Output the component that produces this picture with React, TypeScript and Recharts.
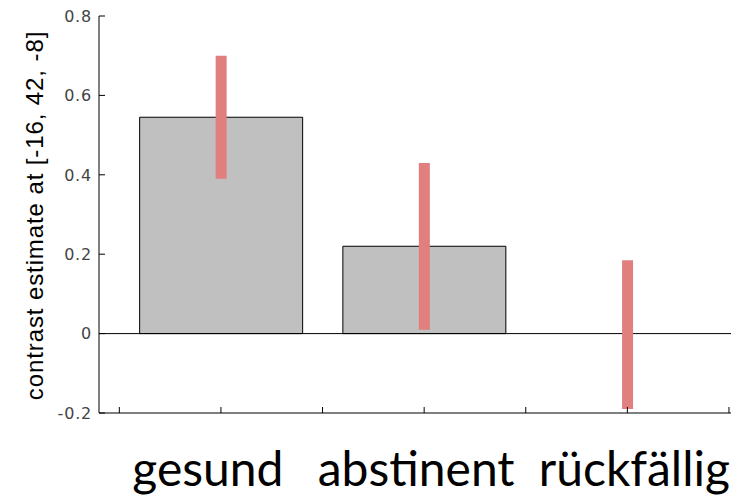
import React from 'react';
import { BarChart, Bar, Cell, XAxis, YAxis, ErrorBar, ReferenceLine } from 'recharts';

// groups and their estimates
const groups = ['gesund', 'abstinent', 'rückfällig'];
const groupPos = [1, 2, 3];
const estimates = [0.545, 0.22, -0.003];
const ciLow = [0.39, 0.01, -0.19];
const ciHigh = [0.7, 0.43, 0.185];

const yTicks = [-0.2, 0, 0.2, 0.4, 0.6, 0.8];
const xTicks = [0.5, 1, 1.5, 2, 2.5, 3, 3.5];

const data = groups.map((name, i) => ({
  name,
  pos: groupPos[i],
  value: estimates[i],
  err: [estimates[i] - ciLow[i], ciHigh[i] - estimates[i]],
}));

// labels are not exactly centred under the bars in the original
const labelShift = [-13, -8, 7];

const XTick = ({ x, y, payload }: any) => {
  const idx = groupPos.indexOf(payload.value);
  return (
    <g>
      <line x1={x} y1={y} x2={x} y2={y - 6} stroke="#000" />
      {idx >= 0 && (
        <text
          x={x + labelShift[idx]}
          y={y + 73}
          textAnchor="middle"
          fontFamily="Lato, 'Open Sans', sans-serif"
          fontSize={48}
          fill="#000"
        >
          {groups[idx]}
        </text>
      )}
    </g>
  );
};

const YTick = ({ x, y, payload }: any) => (
  <g>
    <line x1={x + 7} y1={y} x2={x + 13} y2={y} stroke="#000" />
    <text
      x={x}
      y={y}
      dy="0.36em"
      textAnchor="end"
      fontFamily="'DejaVu Sans', sans-serif"
      fontSize={16}
      letterSpacing={0.8}
      fill="#444"
    >
      {payload.value}
    </text>
  </g>
);

const YLabel = ({ viewBox }: any) => {
  const x = viewBox.x + 42.5;
  const y = viewBox.y + viewBox.height / 2 + 1;
  return (
    <text
      x={x}
      y={y}
      transform={`rotate(-90, ${x}, ${y})`}
      textAnchor="middle"
      fontFamily="'Liberation Sans', Arial, sans-serif"
      fontSize={24}
      letterSpacing={0.9}
      fill="#000"
    >
      contrast estimate at [-16, 42, -8]
    </text>
  );
};

const App = () => (
  <div style={{ position: 'absolute', left: 0, top: 0, background: '#fff' }}>
    <BarChart width={731} height={496} data={data} margin={{ top: 16, right: 0, bottom: 0, left: 0 }}>
      <XAxis
        dataKey="pos"
        type="number"
        domain={[0.4, 3.51]}
        ticks={xTicks}
        interval={0}
        height={83}
        tickSize={0}
        tickMargin={0}
        tick={<XTick />}
        axisLine={{ stroke: '#000' }}
        tickLine={false}
      />
      <YAxis
        type="number"
        domain={[-0.2, 0.8]}
        ticks={yTicks}
        interval={0}
        width={99}
        tickSize={0}
        tickMargin={7}
        tick={<YTick />}
        axisLine={{ stroke: '#000' }}
        tickLine={false}
        label={<YLabel />}
      />
      {/* zero line sits under the error bars */}
      <ReferenceLine y={0} stroke="#000" strokeWidth={1} />
      <Bar dataKey="value" fill="#c0c0c0" stroke="#000" strokeWidth={1} isAnimationActive={false}>
        {data.map((d) => (
          // a near-zero bar is not visible in the original
          <Cell key={d.name} stroke={Math.abs(d.value) < 0.01 ? 'none' : '#000'} fill={Math.abs(d.value) < 0.01 ? 'none' : '#c0c0c0'} />
        ))}
        <ErrorBar dataKey="err" direction="y" width={0} strokeWidth={11} stroke="#e17f7f" />
      </Bar>
    </BarChart>
  </div>
);

export default App;
